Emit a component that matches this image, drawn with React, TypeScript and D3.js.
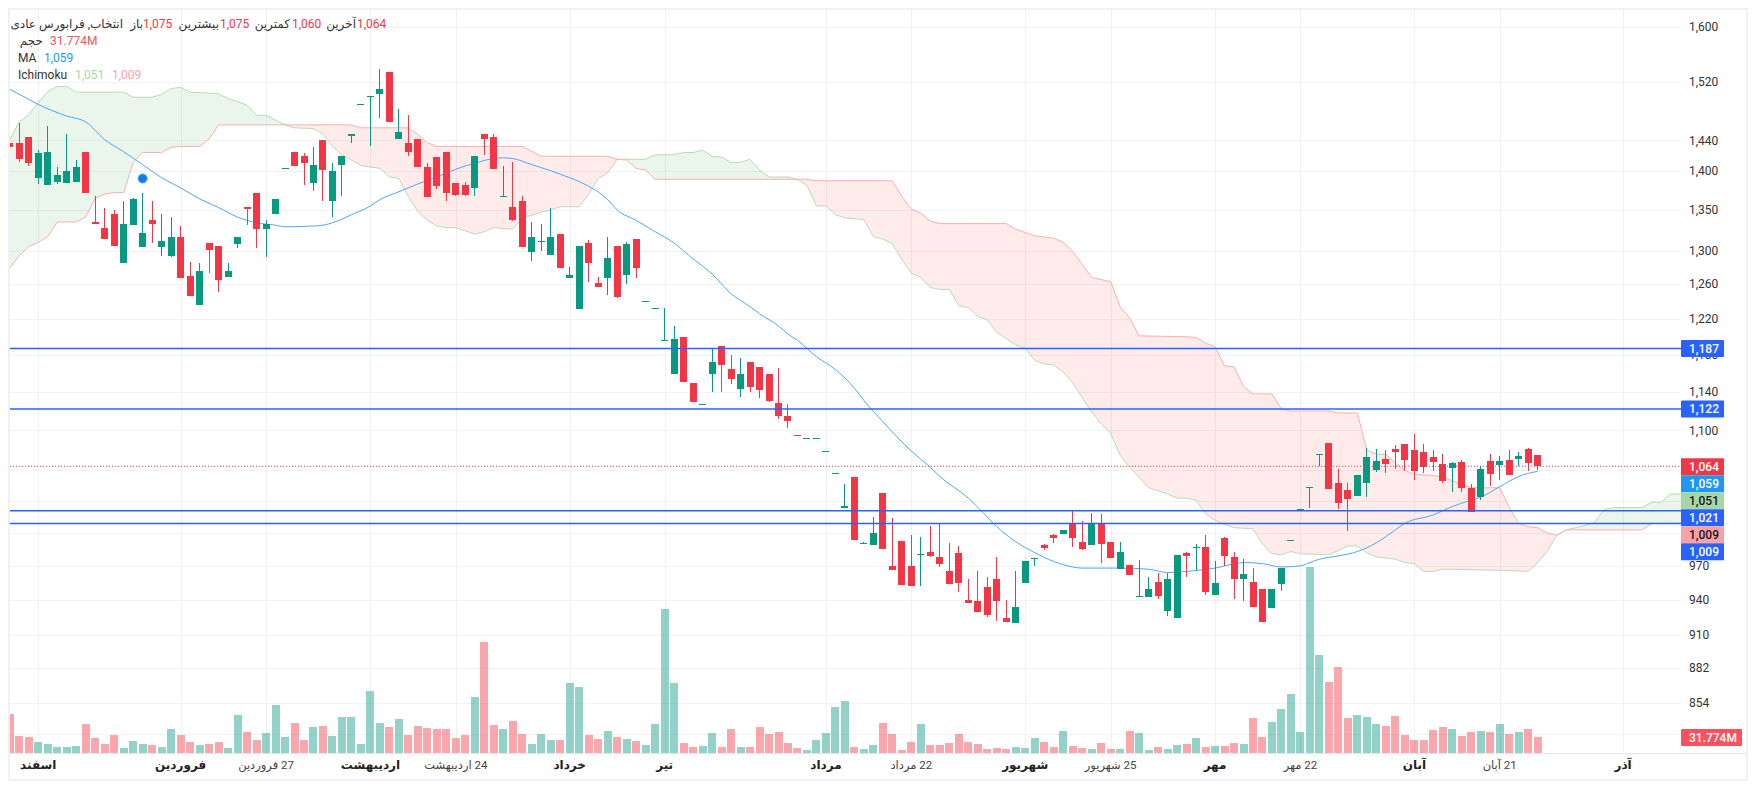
import * as d3 from 'd3';

const W = 1757;
const H = 790;
const plotLeft = 10;
const plotRight = 1681;
const plotTop = 10;
const plotBottom = 753;

const opens = [
  1436,1436,1445,1390,1381,1385,1384,1386,1424,1335,
  1328,1345,1285,1331,1304,1338,1304,1293,1317,1270,
  1236,1309,1306,1269,1308,1354,1371,1326,1345,1402,
  1425,1419,1384,1440,1361,1407,1446,1489,1500,1504,
  1535,1442,1436,1442,1405,1418,1424,1384,1381,1378,
  1448,1444,1367,1354,1361,1298,1310,1295,1320,1267,
  1231,1309,1262,1267,1306,1271,1314,1239,1231,1195,
  1159,1200,1150,1126,1159,1190,1165,1143,1172,1167,
  1159,1128,1115,1095,1091,1091,1078,1056,1024,1053,
  990,989,1038,970,993,970,980,983,978,965,
  982,940,939,951,958,924,920,955,976,989,
  998,999,1008,992,989,1008,992,967,971,942,
  942,956,930,924,982,986,987,944,995,978,
  958,956,949,933,954,993,1022,1043,1075,1087,
  1048,1041,1035,1048,1060,1071,1081,1086,1080,1078,
  1073,1066,1062,1068,1043,1034,1069,1065,1070,1071,1081,1075,
];
const highs = [
  1436,1463,1445,1427,1459,1405,1448,1414,1424,1368,
  1352,1350,1361,1365,1371,1361,1345,1341,1330,1286,
  1285,1309,1306,1285,1316,1354,1372,1337,1364,1403,
  1425,1423,1431,1440,1410,1420,1448,1490,1501,1539,
  1535,1482,1475,1442,1410,1418,1424,1384,1385,1420,
  1448,1448,1406,1411,1368,1335,1333,1352,1320,1280,
  1305,1313,1269,1317,1306,1310,1314,1240,1232,1232,
  1212,1200,1150,1127,1186,1190,1180,1177,1172,1167,
  1159,1166,1127,1095,1092,1092,1079,1057,1047,1053,
  992,1015,1038,1014,993,998,996,1007,1009,991,
  988,958,965,960,978,940,965,974,977,990,
  999,1003,1022,1011,1019,1018,992,992,971,975,
  960,964,964,980,983,990,998,974,996,983,
  976,968,949,949,968,994,1023,1044,1076,1087,
  1061,1048,1055,1082,1081,1080,1085,1086,1096,1086,
  1080,1076,1068,1070,1047,1064,1076,1074,1080,1078,1082,1075,
];
const lows = [
  1431,1411,1406,1383,1381,1383,1384,1386,1372,1332,
  1314,1305,1285,1331,1304,1309,1294,1292,1267,1246,
  1236,1273,1251,1269,1303,1331,1303,1292,1345,1402,
  1406,1381,1374,1361,1341,1368,1437,1489,1432,1471,
  1465,1442,1420,1405,1366,1376,1361,1368,1367,1367,
  1421,1402,1367,1336,1304,1287,1299,1295,1279,1267,
  1231,1263,1257,1247,1244,1260,1267,1239,1231,1195,
  1159,1151,1129,1126,1140,1140,1148,1135,1140,1134,
  1129,1112,1103,1094,1091,1091,1078,1056,1024,994,
  990,989,985,966,953,952,952,978,969,954,
  947,937,929,925,922,921,920,955,970,984,
  991,999,987,984,989,973,977,967,962,942,
  942,941,926,924,960,965,944,944,970,941,
  939,934,921,933,948,993,1022,1024,1064,1042,
  1023,1002,1035,1034,1058,1057,1061,1059,1051,1057,
  1059,1048,1039,1039,1020,1031,1045,1051,1055,1064,1059,1060,
];
const closes = [
  1431,1416,1410,1423,1424,1394,1400,1405,1372,1332,
  1314,1305,1332,1364,1322,1333,1311,1317,1267,1246,
  1275,1301,1265,1275,1316,1351,1326,1332,1364,1403,
  1406,1410,1407,1401,1400,1420,1448,1490,1501,1511,
  1465,1452,1424,1405,1366,1380,1372,1369,1369,1420,
  1442,1402,1368,1337,1304,1317,1311,1316,1279,1271,
  1305,1285,1257,1291,1245,1308,1279,1240,1232,1196,
  1197,1151,1129,1127,1172,1169,1154,1159,1145,1142,
  1130,1115,1110,1094,1092,1092,1079,1057,1025,994,
  991,1000,985,966,953,952,981,979,972,954,
  955,937,929,927,939,921,934,974,977,986,
  995,1003,995,985,1008,990,977,983,962,943,
  949,943,958,980,979,987,947,955,979,958,
  963,934,921,949,968,994,1023,1044,1076,1042,
  1028,1032,1055,1073,1069,1066,1078,1070,1059,1063,
  1068,1050,1067,1043,1020,1061,1056,1069,1055,1074,1067,1064,
];
// volume in millions
const volumes = [
  78.4,33.8,31.8,21.6,17.6,11.5,11.5,13.5,58.1,29.7,
  17.6,35.8,9.5,23.7,17.6,15.5,11.5,48,35.8,21.6,
  15.5,17.6,21.6,9.5,76.4,41.9,25.7,39.9,96.7,31.8,
  60.2,25.7,52.1,54.1,33.8,72.3,72.3,17.6,125,60.2,
  52.1,68.3,35.8,54.1,50,48,48,29.7,35.8,112.9,
  224.4,56.1,48,64.2,37.9,17.6,37.9,25.7,25.7,141.3,
  133.2,35.8,27.7,43.9,31.8,27.7,23.7,15.5,58.1,291.4,
  141.3,19.6,11.5,13.5,39.9,11.5,48,11.5,11.5,52.1,
  37.9,41.9,19.6,9.5,5.4,25.7,39.9,92.6,104.8,11.5,
  7.4,15.5,60.2,37.9,5.4,21.6,58.1,15.5,15.5,19.6,
  37.9,21.6,17.6,7.4,9.5,7.4,11.5,9.5,29.7,21.6,
  11.5,43.9,13.5,9.5,7.4,19.6,7.4,7.4,43.9,39.9,
  5.4,11.5,7.4,15.5,17.6,29.7,11.5,13.5,13.5,19.6,
  17.6,70.3,31.8,62.2,88.6,119,41.9,377.2,198.1,143.3,
  173.7,70.3,76.4,72.3,58.1,54.1,74.4,35.8,25.7,25.7,
  46,52.1,48,33.8,41.9,43.9,41.9,58.1,37.9,41.9,48,31.774,
];

// [bar, price] vertices
const maLine: [number, number][] = [
  [0,1510],[2,1496],[3,1489],[6,1473],[8,1465],[10,1441],[12,1425],[14,1408],[16,1391],[18,1378],
  [20,1364],[22,1353],[24,1341],[26,1334],[28,1331],[29,1329],[32,1330],[33,1331],[34,1334],[36,1344],
  [38,1355],[39,1363],[41,1373],[43,1383],[45,1392],[47,1402],[49,1410],[51,1416],[52,1417],[53,1416],
  [55,1408],[57,1400],[59,1391],[60,1386],[61,1380],[63,1363],[64,1350],[66,1337],[68,1323],[70,1309],
  [72,1290],[74,1272],[76,1249],[78,1234],[79,1226],[81,1212],[82,1203],[83,1196],[85,1178],[87,1164],
  [89,1144],[90,1131],[92,1109],[95,1079],[97,1063],[98,1054],[101,1033],[103,1015],[104,1006],[106,992],
  [108,982],[110,974],[112,969],[113,968],[117,968],[120,967],[122,964],[124,965],[127,968],[130,973],
  [132,972],[134,969],[136,970],[137,973],[138,976],[140,979],[142,983],[144,991],[146,1003],[147,1009],
  [150,1017],[152,1025],[154,1031],[155,1034],[157,1044],[159,1054],[161,1059],
];
const spanA: [number, number][] = [
  [0,1441],[1,1465],[2,1475],[3,1492],[4,1507],[5,1514],[6,1514],[7,1506],[12,1506],[13,1499],
  [15,1499],[16,1503],[17,1511],[18,1513],[19,1506],[22,1504],[23,1497],[24,1493],[25,1488],[26,1474],
  [27,1474],[29,1461],[30,1457],[32,1456],[33,1449],[34,1432],[35,1421],[37,1407],[39,1403],[40,1392],
  [41,1390],[42,1367],[43,1348],[44,1337],[45,1330],[46,1328],[47,1328],[49,1320],[50,1323],[51,1328],
  [53,1326],[54,1340],[56,1347],[57,1350],[58,1354],[60,1354],[61,1370],[62,1390],[63,1397],[64,1415],
  [67,1415],[68,1421],[70,1421],[71,1424],[72,1424],[73,1427],[74,1419],[75,1418],[76,1411],[77,1411],
  [78,1415],[79,1401],[80,1392],[82,1392],[83,1389],[84,1381],[85,1355],[86,1355],[87,1344],[88,1340],
  [90,1338],[91,1317],[92,1314],[93,1308],[94,1289],[95,1273],[96,1268],[97,1256],[98,1254],[99,1254],
  [100,1235],[101,1233],[102,1223],[103,1219],[104,1205],[105,1198],[106,1191],[107,1187],[108,1174],[109,1170],
  [110,1169],[111,1161],[112,1150],[113,1134],[114,1119],[115,1107],[116,1097],[117,1075],[118,1063],[119,1053],
  [120,1043],[121,1040],[122,1037],[123,1033],[124,1033],[125,1031],[126,1018],[127,1012],[128,1008],[129,1005],
  [131,1004],[132,990],[133,981],[134,980],[135,983],[136,981],[139,980],[140,984],[141,988],[142,988],
  [143,982],[144,978],[146,976],[147,973],[148,972],[149,965],[150,965],[151,967],[157,966],[160,965],
  [161,973],[162,983],[163,998],[164,1003],[166,1007],[167,1010],[168,1022],[169,1024],[172,1024],[173,1029],
  [174,1029],[175,1037],[177,1037],
];
const spanB: [number, number][] = [
  [0,1279],[1,1294],[2,1305],[3,1310],[4,1317],[5,1335],[7,1335],[8,1341],[9,1365],[10,1370],
  [11,1372],[12,1372],[13,1411],[14,1424],[16,1424],[17,1431],[18,1432],[20,1432],[21,1442],[22,1461],
  [36,1461],[37,1457],[42,1457],[43,1448],[44,1437],[45,1432],[54,1432],[56,1419],[63,1419],[64,1415],
  [65,1414],[66,1403],[67,1401],[68,1389],[84,1389],[85,1387],[93,1387],[94,1367],[95,1351],[96,1346],
  [97,1336],[98,1333],[105,1333],[106,1326],[108,1318],[110,1315],[111,1310],[112,1299],[114,1268],[116,1263],
  [117,1234],[118,1221],[119,1201],[124,1200],[125,1199],[126,1193],[127,1189],[128,1168],[129,1167],[130,1146],
  [131,1138],[133,1138],[134,1122],[135,1120],[139,1120],[140,1118],[142,1118],[143,1080],[144,1076],[145,1076],
  [146,1067],[147,1060],[148,1056],[150,1055],[151,1053],[152,1050],[153,1046],[154,1043],[157,1043],[158,1024],
  [159,1009],[160,1006],[161,1005],[162,1000],[163,998],[164,1003],[172,1003],[173,1009],[177,1009],
];

const yTicks = [1600,1520,1440,1400,1350,1300,1260,1220,1180,1140,1100,1060,1030,1000,970,940,910,882,854,830];
const levels = [1187,1122,1021,1009];
const lastPrice = 1064;

const timeBars = [3,18,27,38,47,59,69,86,95,107,116,127,136,148,157,170];
const timeLabels = ['اسفند','فروردین','27 فروردین','اردیبهشت','24 اردیبهشت','خرداد','تیر','مرداد','22 مرداد','شهریور','25 شهریور','مهر','22 مهر','آبان','21 آبان','آذر'];
const timeBold = [true,true,false,true,false,true,true,true,false,true,false,true,false,true,false,true];

const stackValues = ['1,064','1,059','1,051','1,021','1,009','1,009'];
const stackFills = ['#f23645','#2196f3','#a5d6a7','#2962ff','#faa1a4','#2962ff'];
const stackInk = ['#fff','#fff','#131722','#fff','#131722','#fff'];

const markerBar = 14;
const markerPrice = 1390;

const UP = '#089981';
const DOWN = '#f23645';
const GRID = '#f2f3f5';
const FONT = 'Roboto, "DejaVu Sans", sans-serif';
const TEXT = '#333';

export default function App() {
  const x = d3.scaleLinear().domain([0, 161]).range([9.81, 1537.7]);
  const y = d3.scaleLog().domain([1600, 854]).range([27, 703]);
  const vol = d3.scaleLinear().domain([0, 400]).range([plotBottom, plotBottom - 197.2]);

  const line = d3.line<[number, number]>().x(d => x(d[0])).y(d => y(d[1]));
  const smooth = d3.line<[number, number]>().x(d => x(d[0])).y(d => y(d[1])).curve(d3.curveMonotoneX);
  const cloud = line([...spanA, ...[...spanB].reverse()]) + 'Z';
  const aboveB = d3.area<[number, number]>().x(d => x(d[0])).y0(plotTop).y1(d => y(d[1]))(spanB) || '';
  const belowB = d3.area<[number, number]>().x(d => x(d[0])).y0(plotBottom).y1(d => y(d[1]))(spanB) || '';

  const topTag = y(lastPrice) - 8;

  return (
    <svg width={W} height={H} viewBox={`0 0 ${W} ${H}`} fontFamily={FONT} style={{ position: 'absolute', left: 0, top: 0, background: '#fff' }}>
      <defs>
        <clipPath id="plot"><rect x={plotLeft} y={plotTop} width={plotRight - plotLeft} height={plotBottom - plotTop} /></clipPath>
        <clipPath id="aboveB"><path d={aboveB} /></clipPath>
        <clipPath id="belowB"><path d={belowB} /></clipPath>
      </defs>

      {/* Grid */}
      {yTicks.map(t => (
        <line key={t} x1={plotLeft} x2={plotRight} y1={Math.round(y(t)) + 0.5} y2={Math.round(y(t)) + 0.5} stroke={GRID} />
      ))}
      {timeBars.map(b => (
        <line key={b} x1={Math.round(x(b)) + 0.5} x2={Math.round(x(b)) + 0.5} y1={plotTop} y2={plotBottom} stroke="#eff0f3" />
      ))}

      <g clipPath="url(#plot)">
        {/* Volume */}
        <g shapeRendering="crispEdges">
          {volumes.map((v, i) => (
            <rect
              key={i}
              x={Math.round(x(i) - 4)}
              y={vol(v)}
              width={8.4}
              height={plotBottom - vol(v)}
              fill={closes[i] >= opens[i] ? UP : DOWN}
              opacity={0.44}
            />
          ))}
        </g>

        {/* Ichimoku cloud */}
        <g clipPath="url(#aboveB)"><path d={cloud} fill="rgba(67,160,71,0.11)" /></g>
        <g clipPath="url(#belowB)"><path d={cloud} fill="rgba(244,67,54,0.105)" /></g>
        <path d={line(spanA) || ''} fill="none" stroke="#b7dcb8" strokeWidth={1} />
        <path d={line(spanB) || ''} fill="none" stroke="#fbaeb0" strokeWidth={1} />

        {/* MA */}
        <path d={smooth(maLine) || ''} fill="none" stroke="#4ba8f5" strokeWidth={1} />

        {/* Candles */}
        <g shapeRendering="crispEdges">
          {opens.map((o, i) => {
            const c = closes[i];
            const color = c >= o ? UP : DOWN;
            const left = Math.round(x(i) - 3.5);
            const top = Math.round(y(Math.max(o, c)));
            const bottom = Math.round(y(Math.min(o, c)));
            return (
              <g key={i} fill={color}>
                <rect x={left + 3} y={Math.round(y(highs[i]))} width={1} height={Math.max(1, Math.round(y(lows[i])) - Math.round(y(highs[i])))} />
                <rect x={left} y={top} width={7} height={Math.max(1, bottom - top)} />
              </g>
            );
          })}
        </g>

        {/* Alert marker */}
        <circle cx={x(markerBar)} cy={y(markerPrice)} r={4.6} fill="#0a7ff0" stroke="#5fb0f7" strokeWidth={1} />

        {/* Price lines */}
        <line x1={plotLeft} x2={plotRight} y1={y(lastPrice)} y2={y(lastPrice)} stroke={DOWN} strokeWidth={1} strokeDasharray="1 2" />
        {levels.map(l => (
          <line key={l} x1={plotLeft} x2={plotRight} y1={y(l)} y2={y(l)} stroke="#2962ff" strokeWidth={1.5} />
        ))}
      </g>

      {/* Frame and time axis separator */}
      <line x1={plotLeft} x2={1746} y1={753.5} y2={753.5} stroke="#e4e6ec" />
      <rect x={9} y={9} width={1738} height={771} fill="none" stroke="#f0f1f6" strokeWidth={2} />

      {/* Price axis */}
      {yTicks.map(t => (
        <text key={t} x={1689} y={y(t)} dy="0.35em" fontSize={12} fill={TEXT}>{d3.format(',')(t)}</text>
      ))}
      {levels.slice(0, 2).map(l => (
        <g key={l}>
          <rect x={1681} y={y(l) - 8.5} width={43} height={17} rx={1} fill="#2962ff" />
          <text x={1689} y={y(l)} dy="0.35em" fontSize={12} fontWeight={500} fill="#fff">{d3.format(',')(l)}</text>
        </g>
      ))}
      {stackValues.map((s, i) => (
        <g key={i}>
          <rect x={1681} y={topTag + i * 17} width={43} height={17} fill={stackFills[i]} />
          <text x={1689} y={topTag + i * 17 + 8.5} dy="0.35em" fontSize={12} fontWeight={500} fill={stackInk[i]}>{s}</text>
        </g>
      ))}
      <rect x={1681} y={729} width={61} height={17} rx={1} fill="#f7525f" />
      <text x={1689} y={737.5} dy="0.35em" fontSize={12} fontWeight={500} fill="#fff">31.774M</text>

      {/* Time axis */}
      {timeBars.map((b, i) => (
        <text
          key={b}
          x={x(b)}
          y={765}
          dy="0.35em"
          fontSize={timeBold[i] ? 12 : 11.5}
          fontWeight={timeBold[i] ? 700 : 400}
          fill={timeBold[i] ? '#222' : '#444'}
          textAnchor="middle"
          style={{ direction: 'rtl' }}
        >
          {timeLabels[i]}
        </text>
      ))}

      {/* Legend */}
      <g fontSize={12} fill={TEXT}>
        <text x={123} y={24} dy="0.35em" style={{ direction: 'rtl' }}>انتخاب, فرابورس عادی</text>
        <text x={143} y={24} dy="0.35em" style={{ direction: 'rtl' }}>باز</text>
        <text x={143} y={24} dy="0.35em" fill={DOWN}>1,075</text>
        <text x={219} y={24} dy="0.35em" style={{ direction: 'rtl' }}>بیشترین</text>
        <text x={220} y={24} dy="0.35em" fill={DOWN}>1,075</text>
        <text x={290} y={24} dy="0.35em" style={{ direction: 'rtl' }}>کمترین</text>
        <text x={292} y={24} dy="0.35em" fill={DOWN}>1,060</text>
        <text x={356} y={24} dy="0.35em" style={{ direction: 'rtl' }}>آخرین</text>
        <text x={357} y={24} dy="0.35em" fill={DOWN}>1,064</text>
        <text x={43} y={41} dy="0.35em" style={{ direction: 'rtl' }}>حجم</text>
        <text x={50} y={41} dy="0.35em" fill="#f7525f">31.774M</text>
        <text x={18} y={58} dy="0.35em">MA</text>
        <text x={44} y={58} dy="0.35em" fill="#2196f3">1,059</text>
        <text x={18} y={75} dy="0.35em">Ichimoku</text>
        <text x={75} y={75} dy="0.35em" fill="#a5d6a7">1,051</text>
        <text x={112} y={75} dy="0.35em" fill="#faa1a4">1,009</text>
      </g>
    </svg>
  );
}
